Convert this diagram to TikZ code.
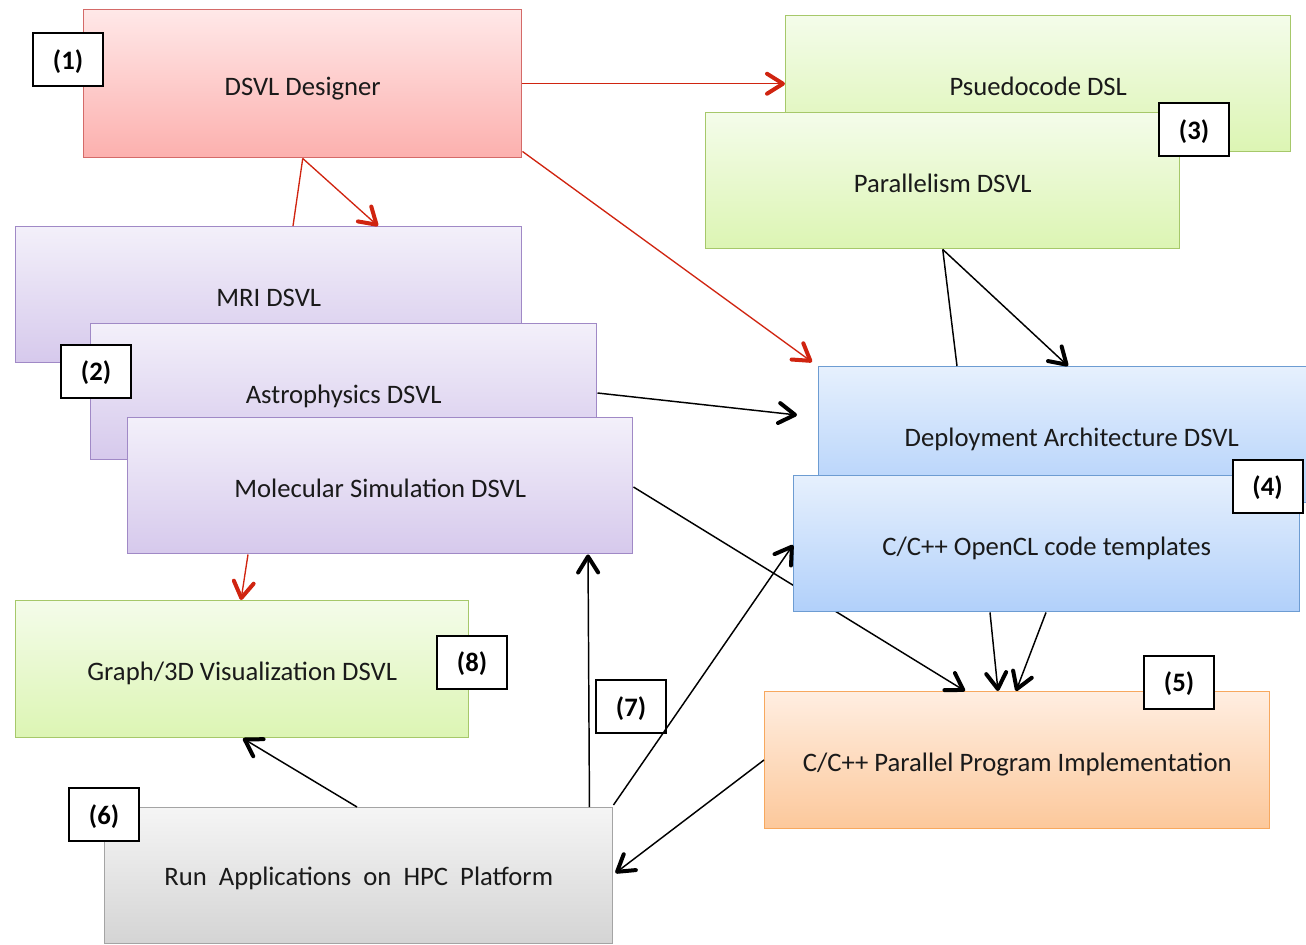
\documentclass[tikz,border=0pt]{standalone}
\usepackage{fontspec}
\setmainfont{Carlito}
\usetikzlibrary{arrows.meta,calc}
\definecolor{redtop}{HTML}{FFE8E8}
\definecolor{redbot}{HTML}{FCB0AE}
\definecolor{redline}{HTML}{D46A68}
\definecolor{grntop}{HTML}{F4FCEA}
\definecolor{grnbot}{HTML}{DCF5B3}
\definecolor{grnline}{HTML}{A6C86A}
\definecolor{purtop}{HTML}{F3F0FA}
\definecolor{purbot}{HTML}{D6C9EC}
\definecolor{purline}{HTML}{A089C6}
\definecolor{blutop}{HTML}{E6F0FD}
\definecolor{blubot}{HTML}{B1D0FA}
\definecolor{bluline}{HTML}{6D9CD2}
\definecolor{orgtop}{HTML}{FFEEE1}
\definecolor{orgbot}{HTML}{FCC89B}
\definecolor{orgline}{HTML}{F7A85E}
\definecolor{grytop}{HTML}{F5F5F5}
\definecolor{grybot}{HTML}{D4D4D4}
\definecolor{gryline}{HTML}{A4A4A4}
\definecolor{arrred}{HTML}{D02410}
\definecolor{txt}{HTML}{1A1A1A}
\tikzset{
  box/.style={draw, line width=1.1pt, anchor=north west, inner sep=0pt,
    font=\fontsize{20}{22}\selectfont, text=txt, text height=24pt, text depth=7pt},
  redbox/.style={box, draw=redline, top color=redtop, bottom color=redbot},
  grnbox/.style={box, draw=grnline, top color=grntop, bottom color=grnbot},
  purbox/.style={box, draw=purline, top color=purtop, bottom color=purbot},
  blubox/.style={box, draw=bluline, top color=blutop, bottom color=blubot},
  orgbox/.style={box, draw=orgline, top color=orgtop, bottom color=orgbot},
  grybox/.style={box, draw=gryline, top color=grytop, bottom color=grybot},
  tag/.style={draw=black, fill=white, line width=1.5pt, minimum width=52.5pt,
    minimum height=39.75pt, inner sep=0pt, font=\fontsize{20}{22}\selectfont\bfseries, text=black,
    text height=20pt, text depth=5.5pt},
  conn/.style={line width=1.1pt, black, -{Straight Barb[length=12pt,width=15pt,line width=3pt,round]}},
  rconn/.style={line width=1pt, arrred, -{Straight Barb[length=12pt,width=15pt,line width=3pt,round]}},
  plain/.style={line width=1.1pt, black},
  rplain/.style={line width=1pt, arrred},
}
\begin{document}
\begin{tikzpicture}[x=0.75pt,y=-0.75pt]
\useasboundingbox (0,0) rectangle (1306,945);
\begin{scope}
\clip (0,0) rectangle (1306,945);
% top row
\node[redbox, minimum width=328.5pt, minimum height=111pt] (des) at (83,9) {DSVL Designer};
\node[grnbox, minimum width=378.75pt, minimum height=102pt] (pse) at (785,15) {Psuedocode DSL};
\node[grnbox, minimum width=355.5pt, minimum height=102pt] (par) at (705,112) {Parallelism DSVL};
\node[tag] (t3) at (1194,130) {(3)};
\node[tag] (t1) at (68,59.5) {(1)};
% domain DSVLs
\node[purbox, minimum width=379.5pt, minimum height=102pt] (mri) at (15,226) {MRI DSVL};
\draw[rplain] (des.south) -- ($(mri.north west)+(278,0)$);
\draw[rconn] (des.south) -- ($(mri.north west)+(363,0)$);
\node[purbox, minimum width=379.5pt, minimum height=102pt] (ast) at (90,323) {Astrophysics DSVL};
\node[purbox, minimum width=378.75pt, minimum height=102pt] (mol) at (127,417) {Molecular Simulation DSVL};
\node[tag] (t2) at (96,371) {(2)};
% lower left
\node[grnbox, minimum width=339.75pt, minimum height=102.75pt] (g3d) at (15,600) {Graph/3D Visualization DSVL};
\node[tag] (t8) at (472,662) {(8)};
\node[grybox, minimum width=381pt, minimum height=102pt, text height=22pt, text depth=7pt] (run) at (104,807) {Run~~Applications~~on~~HPC~~Platform};
\node[tag] (t6) at (104,814.5) {(6)};
\node[tag] (t7) at (631,706.5) {(7)};
% right side
\node[blubox, minimum width=379.5pt, minimum height=102pt] (dep) at (818,366) {Deployment Architecture DSVL};
\node[orgbox, minimum width=378.75pt, minimum height=102.75pt] (ppi) at (764,691) {C/C++ Parallel Program Implementation};
\node[tag] (t5) at (1179,682) {(5)};
\draw[conn] ($(mol.north east)+(0,70)$) -- ($(ppi.north west)+(201,0)$);
\node[blubox, minimum width=379.5pt, minimum height=102pt] (ocl) at (793,475) {C/C++ OpenCL code templates};
\node[tag] (t4) at (1267.5,486) {(4)};
% connectors
\draw[rconn] (des.east) -- (pse.west);
\draw[rconn] ($(des.south east)+(0,-7)$) -- ($(dep.north west)+(-6,-4)$);
\draw[rconn] ($(mol.south west)+(121,0)$) -- ($(g3d.north west)+(226,0)$);
\draw[plain] (par.south) -- ($(dep.north west)+(139,0)$);
\draw[conn] (par.south) -- ($(dep.north west)+(250,0)$);
\draw[conn] ($(ast.north east)+(0,70)$) -- ($(dep.north west)+(-21,49)$);
\draw[conn] ($(ocl.south west)+(197,0)$) -- ($(ppi.north west)+(234,0)$);
\draw[conn] ($(ocl.south west)+(253,0)$) -- ($(ppi.north west)+(252,0)$);
\draw[conn] ($(ppi.north west)+(0,69)$) -- ($(run.north east)+(2,66)$);
\draw[conn] ($(run.north east)+(-24,0)$) -- ($(mol.south west)+(461,0)$);
\draw[conn] ($(run.north east)+(0,-2)$) -- ($(ocl.north west)+(0,70)$);
\draw[conn] ($(run.north west)+(253,0)$) -- ($(g3d.south west)+(228,0)$);
\end{scope}
\end{tikzpicture}
\end{document}
